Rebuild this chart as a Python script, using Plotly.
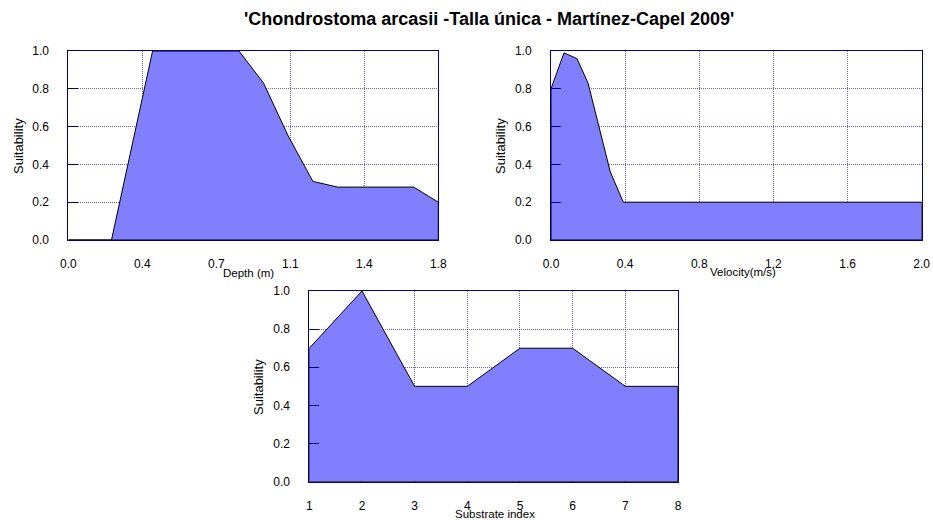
import plotly.graph_objects as go

# ---- data ----
depth_x = [0.0, 0.21, 0.36, 0.41, 0.83, 0.95, 1.07, 1.19, 1.31, 1.68, 1.8]
depth_y = [0.0, 0.0, 0.75, 1.0, 1.0, 0.83, 0.55, 0.31, 0.28, 0.28, 0.2]

vel_x = [0.0, 0.07, 0.14, 0.2, 0.32, 0.39, 2.0]
vel_y = [0.8, 0.99, 0.96, 0.83, 0.36, 0.2, 0.2]

sub_x = [1, 2, 3, 4, 5, 6, 7, 8]
sub_y = [0.7, 1.0, 0.5, 0.5, 0.7, 0.7, 0.5, 0.5]

depth_ticks = [0.0, 0.36, 0.72, 1.08, 1.44, 1.8]
depth_ticktext = ["0.0", "0.4", "0.7", "1.1", "1.4", "1.8"]
vel_ticks = [0.0, 0.4, 0.8, 1.2, 1.6, 2.0]
sub_ticks = [1, 2, 3, 4, 5, 6, 7, 8]
y_ticks = [0.0, 0.2, 0.4, 0.6, 0.8, 1.0]

title = "'Chondrostoma arcasii -Talla única - Martínez-Capel 2009'"

FILL = "#8080FF"
NAVY = "#000080"
GRID = "rgba(0,0,170,0.6)"
FONT = "Liberation Sans, Arial, sans-serif"

W, H = 933, 520

def px_x(p):
    return p / W

def px_y(p):
    return 1 - p / H

fig = go.Figure()

def closed(xs, ys):
    cx = list(xs) + [xs[-1], xs[0], xs[0]]
    cy = list(ys) + [0, 0, ys[0]]
    return cx, cy

panels = [
    (depth_x, depth_y, "x", "y"),
    (vel_x, vel_y, "x2", "y2"),
    (sub_x, sub_y, "x3", "y3"),
]
for xs, ys, xa, ya in panels:
    cx, cy = closed(xs, ys)
    fig.add_trace(go.Scatter(x=cx, y=cy, xaxis=xa, yaxis=ya, mode="lines",
                             fill="toself", fillcolor=FILL,
                             line=dict(color="black", width=1),
                             hoverinfo="skip", showlegend=False))

common_x = dict(showline=True, mirror=True, linecolor=NAVY, linewidth=1,
                showgrid=True, gridcolor=GRID, griddash="1px,1px", gridwidth=1,
                zeroline=False, ticks="", ticklabelstandoff=13, automargin=False,
                tickfont=dict(family=FONT, size=12, color="black"))
common_y = dict(showline=True, mirror=True, linecolor=NAVY, linewidth=1,
                showgrid=True, gridcolor=GRID, griddash="1px,1px", gridwidth=1,
                zeroline=False, ticks="inside", ticklen=10, tickcolor=NAVY,
                ticklabelstandoff=16, range=[0, 1], tickvals=y_ticks,
                tickformat=".1f", automargin=False,
                tickfont=dict(family=FONT, size=12, color="black"))

top_dom = [px_y(240), px_y(51)]
bot_dom = [px_y(481.7), px_y(291)]

fig.update_layout(
    width=W, height=H,
    margin=dict(l=0, r=0, t=0, b=0),
    paper_bgcolor="white", plot_bgcolor="white",
    xaxis=dict(common_x, domain=[px_x(68.3), px_x(438.3)], range=[0, 1.8],
               tickvals=depth_ticks, ticktext=depth_ticktext, anchor="y"),
    yaxis=dict(common_y, domain=top_dom, anchor="x"),
    xaxis2=dict(common_x, domain=[px_x(551), px_x(921.7)], range=[0, 2.0],
                tickvals=vel_ticks, tickformat=".1f", anchor="y2"),
    yaxis2=dict(common_y, domain=top_dom, anchor="x2"),
    xaxis3=dict(common_x, domain=[px_x(309.3), px_x(678)], range=[1, 8],
                tickvals=sub_ticks, anchor="y3"),
    yaxis3=dict(common_y, domain=bot_dom, anchor="x3"),
)

ann = [
    dict(text="<b>" + title + "</b>", x=px_x(489), y=px_y(19), size=18),
    dict(text="Depth (m)", x=px_x(248), y=px_y(273), size=11.5),
    dict(text="Velocity(m/s)", x=px_x(743), y=px_y(272), size=11.5),
    dict(text="Substrate index", x=px_x(495), y=px_y(514), size=11.5),
]
for a in ann:
    fig.add_annotation(text=a["text"], x=a["x"], y=a["y"], xref="paper", yref="paper",
                       showarrow=False, xanchor="center", yanchor="middle",
                       font=dict(family=FONT, size=a["size"], color="black"))

for xp, yp in [(18, 146), (500, 146), (258, 387)]:
    fig.add_annotation(text="Suitability", x=px_x(xp), y=px_y(yp), xref="paper", yref="paper",
                       showarrow=False, textangle=-90, xanchor="center", yanchor="middle",
                       font=dict(family=FONT, size=13, color="black"))

fig.write_html("out.html")
